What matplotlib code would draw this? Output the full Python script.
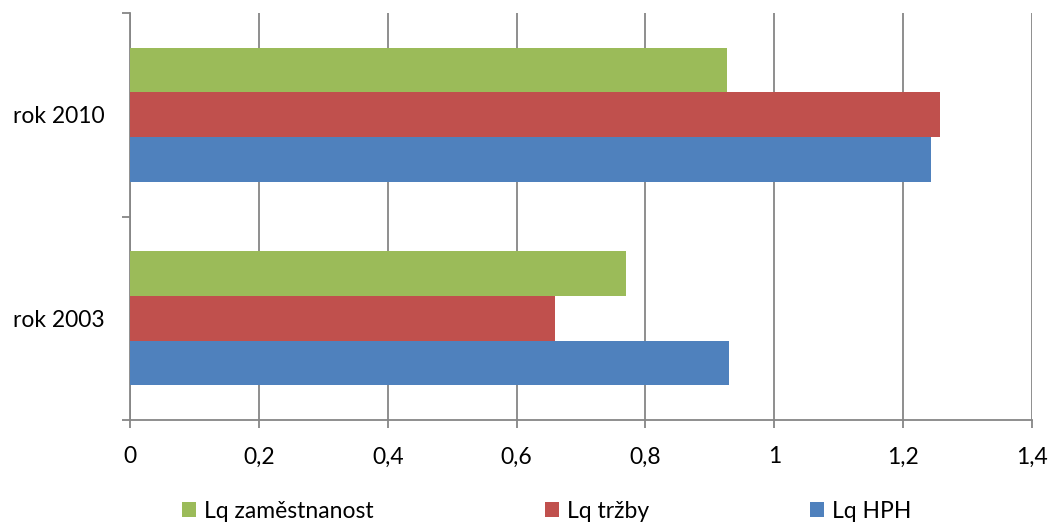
#Lq indicators for years 2003 and 2010, horizontal grouped bars

import matplotlib
matplotlib.use("Agg")
import matplotlib.pyplot as plt
import matplotlib.ticker as tck
import numpy as np

#data
years = ["rok 2003", "rok 2010"]
series = ["Lq HPH", "Lq tržby", "Lq zaměstnanost"]
lq_hph = [0.929, 1.244]
lq_trzby = [0.659, 1.257]
lq_zamestnanost = [0.770, 0.926]
xticks = [0, 0.2, 0.4, 0.6, 0.8, 1.0, 1.2, 1.4]

colors = ["#4F81BD", "#C0504D", "#9BBB59"]
values = [lq_hph, lq_trzby, lq_zamestnanost]

plt.rcParams['font.family'] = ['Lato', 'DejaVu Sans']
grey = "#868686"
fs = 16.5

fig = plt.figure(figsize=(10.54, 5.25), dpi=100)
ax = fig.add_axes([130/1054, 1-420/525, (1032-130)/1054, (420-13)/525])

y = np.arange(len(years))
h = 0.219
bars = []
for i in range(len(series)):
    b = ax.barh(y + (i-1)*h, values[i], height=h, color=colors[i], zorder=3)
    bars.append(b)

ax.set_xlim(0, 1.4)
ax.set_ylim(-0.5, 1.5)
ax.set_xticks(xticks)
ax.xaxis.set_major_formatter(tck.FuncFormatter(lambda v, p: ('%g' % v).replace('.', ',')))
ax.grid(axis='x', color=grey, linewidth=1.3, zorder=0)

#category labels at centers, tick marks at boundaries
ax.set_yticks(y)
ax.set_yticklabels(years)
ax.set_yticks([-0.5, 0.5, 1.5], minor=True)
ax.tick_params(axis='y', which='major', length=0, pad=18, labelsize=fs)
ax.tick_params(axis='y', which='minor', length=6, color=grey, width=1.3)
ax.tick_params(axis='x', length=6, color=grey, width=1.3, pad=13, labelsize=fs)

for s in ['top', 'right']:
    ax.spines[s].set_visible(False)
for s in ['left', 'bottom']:
    ax.spines[s].set_color(grey)
    ax.spines[s].set_linewidth(1.3)

#legend entries placed at their own positions: green, red, blue
leg_x = [182, 545, 810]
for k, i in enumerate([2, 1, 0]):
    lg = fig.legend([bars[i]], [series[i]], loc='center left',
                    bbox_to_anchor=(leg_x[k]/1054, 1-511/525), frameon=False,
                    fontsize=fs, handlelength=0.62, handleheight=0.62, handletextpad=0.35,
                    borderpad=0, borderaxespad=0)

fig.savefig("out.png", dpi=100)
